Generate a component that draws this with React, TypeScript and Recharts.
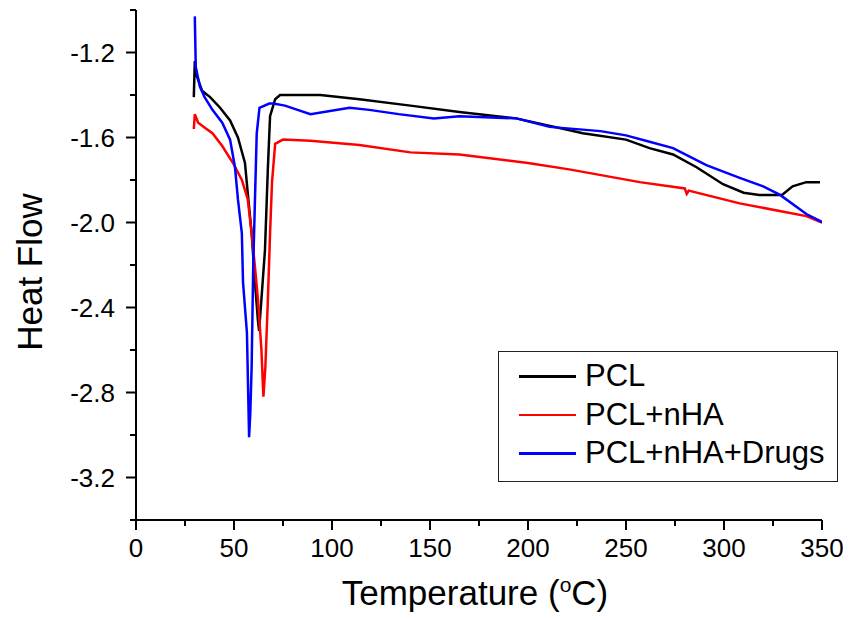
import { LineChart, Line, XAxis, YAxis, Legend, Label } from 'recharts';

// DSC traces (temperature in °C, heat flow)
const pclT = [29.5, 30, 31, 33.7, 37.8, 42.9, 48, 52, 55.6, 57, 59, 60.7, 62.2, 62.8, 64, 65.8, 67.3, 68.4, 71, 73.5, 80, 94, 114, 140, 165, 194, 228, 250, 262, 274, 286, 299.5, 310, 318, 325, 329.6, 335, 342, 349];
const pclV = [-1.41, -1.24, -1.31, -1.38, -1.41, -1.46, -1.52, -1.6, -1.72, -1.86, -2.05, -2.28, -2.46, -2.51, -2.36, -2.13, -1.74, -1.5, -1.42, -1.4, -1.4, -1.4, -1.42, -1.45, -1.48, -1.51, -1.58, -1.61, -1.65, -1.68, -1.74, -1.82, -1.86, -1.87, -1.87, -1.87, -1.83, -1.81, -1.81];

const nhaT = [29.5, 30, 31.7, 36, 39, 44, 49.5, 54, 57, 59, 60.7, 62.2, 64, 65, 66, 67.3, 68.4, 69.4, 71, 75, 89, 114, 140, 165, 200, 221, 257, 280, 281, 282, 308, 342, 350];
const nhaV = [-1.56, -1.49, -1.53, -1.56, -1.58, -1.64, -1.72, -1.8, -1.89, -2.05, -2.21, -2.36, -2.6, -2.82, -2.68, -2.36, -2.05, -1.81, -1.63, -1.61, -1.615, -1.635, -1.67, -1.68, -1.72, -1.75, -1.81, -1.84, -1.865, -1.85, -1.91, -1.97, -2.0];

const drugT = [30, 30.5, 32.6, 35, 39, 44, 48, 50.5, 52, 54, 54.6, 56.6, 57.3, 57.7, 58.3, 59, 59.8, 60.7, 61.6, 63, 68, 70, 76, 89, 109, 119, 134, 152, 165, 194, 211, 237, 250, 262, 274, 291, 308, 320, 328.6, 342, 350.5];
const drugV = [-1.03, -1.27, -1.36, -1.41, -1.47, -1.53, -1.61, -1.74, -1.89, -2.05, -2.28, -2.52, -2.83, -3.01, -2.9, -2.68, -2.21, -1.89, -1.58, -1.46, -1.44, -1.44, -1.45, -1.49, -1.46, -1.47, -1.49, -1.51, -1.5, -1.51, -1.55, -1.57, -1.59, -1.62, -1.65, -1.73, -1.79, -1.83, -1.87, -1.96, -2.0];

const seriesNames = ['PCL', 'PCL+nHA', 'PCL+nHA+Drugs'];
const seriesColors = ['#000000', '#ff0000', '#0000ff'];

const xTicks = [0, 25, 50, 75, 100, 125, 150, 175, 200, 225, 250, 275, 300, 325, 350];
const xLabeled = [0, 50, 100, 150, 200, 250, 300, 350];
const yTicks = [-3.4, -3.2, -3.0, -2.8, -2.6, -2.4, -2.2, -2.0, -1.8, -1.6, -1.4, -1.2, -1.0];
const yLabeled = ['-3.2', '-2.8', '-2.4', '-2.0', '-1.6', '-1.2'];

const toRows = (ts: number[], vs: number[]) => ts.map((t, i) => ({ t, v: vs[i] }));
const series = [toRows(pclT, pclV), toRows(nhaT, nhaV), toRows(drugT, drugV)];

const FONT = '"Liberation Sans", Arial, sans-serif';

function XTick(props: any) {
  const { x, y, payload } = props;
  const major = xLabeled.includes(payload.value);
  return (
    <g>
      <line x1={x} y1={y} x2={x} y2={y + (major ? 10 : 6)} stroke="#000" strokeWidth={2} />
      {major && (
        <text x={x} y={y + 37} textAnchor="middle" fontSize={26} fontFamily={FONT} fill="#000">
          {payload.value}
        </text>
      )}
    </g>
  );
}

function YTick(props: any) {
  const { x, y, payload } = props;
  const label = Number(payload.value).toFixed(1);
  const major = yLabeled.includes(label);
  return (
    <g>
      <line x1={x} y1={y} x2={x - (major ? 10 : 6)} y2={y} stroke="#000" strokeWidth={2} />
      {major && (
        <text x={x - 21} y={y + 9} textAnchor="end" fontSize={26} fontFamily={FONT} fill="#000">
          {label}
        </text>
      )}
    </g>
  );
}

function XTitle(props: any) {
  const vb = props.viewBox || { x: 136, y: 520, width: 686, height: 100 };
  return (
    <text x={vb.x + vb.width / 2 - 4} y={vb.y + 85} textAnchor="middle" fontSize={35} fontFamily={FONT} fill="#000">
      Temperature (
      <tspan dy={-13} fontSize={21}>o</tspan>
      <tspan dy={13}>C)</tspan>
    </text>
  );
}

function YTitle(props: any) {
  const vb = props.viewBox || { x: 0, y: 10, width: 136, height: 510 };
  const cy = vb.y + vb.height / 2 + 7;
  return (
    <text x={42} y={cy} transform={`rotate(-90, 42, ${cy})`} textAnchor="middle" fontSize={35} fontFamily={FONT} fill="#000">
      Heat Flow
    </text>
  );
}

function LegendBox() {
  return (
    <div
      style={{
        border: '1.5px solid #222',
        background: '#fff',
        padding: '5px 0 8px 20px',
        boxSizing: 'border-box',
        width: 340,
        fontFamily: FONT,
      }}
    >
      {seriesNames.map((name, i) => (
        <div key={name} style={{ display: 'flex', alignItems: 'center', height: 38.5 }}>
          <div style={{ width: 57, height: 2.5, background: seriesColors[i] }} />
          <span style={{ marginLeft: 9, fontSize: 31, color: '#000' }}>{name}</span>
        </div>
      ))}
    </div>
  );
}

export default function App() {
  return (
    <div style={{ margin: -8, width: 851, height: 620, background: '#fff' }}>
      <LineChart width={851} height={620} margin={{ top: 10, right: 29, left: 0, bottom: 0 }}>
        <XAxis
          dataKey="t"
          type="number"
          domain={[0, 350]}
          ticks={xTicks}
          interval={0}
          allowDataOverflow
          height={100}
          tickSize={0}
          tickMargin={0}
          tickLine={false}
          axisLine={{ stroke: '#000', strokeWidth: 2 }}
          tick={<XTick />}
        >
          <Label content={<XTitle />} />
        </XAxis>
        <YAxis
          type="number"
          domain={[-3.4, -1.0]}
          ticks={yTicks}
          interval={0}
          allowDataOverflow
          width={136}
          tickSize={0}
          tickMargin={0}
          tickLine={false}
          axisLine={{ stroke: '#000', strokeWidth: 2 }}
          tick={<YTick />}
        >
          <Label content={<YTitle />} />
        </YAxis>
        <Legend
          layout="horizontal"
          verticalAlign="middle"
          align="center"
          wrapperStyle={{ left: 498, top: 351, width: 340 }}
          content={<LegendBox />}
        />
        {series.map((rows, i) => (
          <Line
            key={seriesNames[i]}
            data={rows}
            dataKey="v"
            name={seriesNames[i]}
            type="linear"
            stroke={seriesColors[i]}
            strokeWidth={2.5}
            dot={false}
            activeDot={false}
            isAnimationActive={false}
          />
        ))}
      </LineChart>
    </div>
  );
}
